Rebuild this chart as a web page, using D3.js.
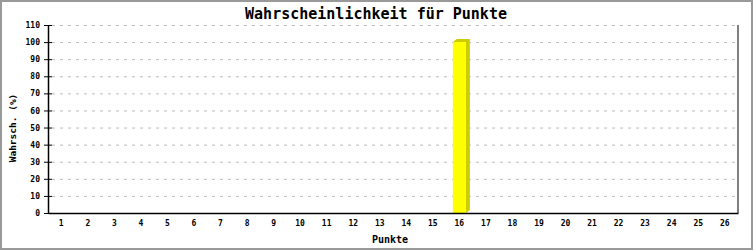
<!DOCTYPE html>
<html>
<head>
<meta charset="utf-8">
<script src="https://cdn.jsdelivr.net/npm/d3@7/dist/d3.min.js"></script>
<style>
body { margin: 0; background: #fff; }
svg { display: block; }
text { font-family: "DejaVu Sans Mono", monospace; fill: #000; }
.grid line { stroke: #bbb; stroke-dasharray: 3,5; }
</style>
</head>
<body>
<svg width="753" height="250"></svg>
<script>
// data
var punkte = d3.range(1, 27);
var wahrsch = [0,0,0,0,0,0,0,0,0,0,0,0,0,0,0,100,0,0,0,0,0,0,0,0,0,0];
var yTicks = [0,10,20,30,40,50,60,70,80,90,100,110];

var svg = d3.select("svg"),
margin = {top: 25, right: 15, bottom: 37, left: 48},
width = +svg.attr("width") - margin.left - margin.right,
height = +svg.attr("height") - margin.top - margin.bottom;

// frame
svg.append("rect")
  .attr("x", 1).attr("y", 1).attr("width", 751).attr("height", 248)
  .attr("fill", "#fff").attr("stroke", "#999").attr("stroke-width", 2);

var x = d3.scaleBand().domain(punkte).range([0, width]),
y = d3.scaleLinear().domain([0, 110]).range([height, 0]);

var g = svg.append("g")
  .attr("transform", "translate(" + margin.left + "," + margin.top + ")");

// grid
g.append("g").attr("class", "grid")
  .selectAll("line")
  .data(yTicks.filter(function(d) { return d > 0; }))
  .enter().append("line")
    .attr("x1", 4).attr("x2", width)
    .attr("y1", function(d) { return y(d) + 0.5; })
    .attr("y2", function(d) { return y(d) + 0.5; });

// bars (pseudo 3d)
var dx = 4, dy = 3, bw = 13;
var bars = g.selectAll(".bar")
  .data(wahrsch.map(function(v, i) { return {p: punkte[i], v: v}; }).filter(function(d) { return d.v > 0; }))
  .enter().append("g").attr("class", "bar");

bars.append("path")
  .attr("fill", "#cccc00")
  .attr("d", function(d) {
    var x0 = x(d.p) + x.bandwidth() / 2 - bw / 2, x1 = x0 + bw, y0 = y(d.v), yb = height;
    return "M" + x0 + "," + y0 + "L" + (x0 + dx) + "," + (y0 - dy) + "L" + (x1 + dx) + "," + (y0 - dy) +
      "L" + (x1 + dx) + "," + (yb - dy) + "L" + x1 + "," + yb + "L" + x1 + "," + y0 + "Z";
  });

bars.append("rect")
  .attr("fill", "#ffff00")
  .attr("x", function(d) { return x(d.p) + x.bandwidth() / 2 - bw / 2; })
  .attr("y", function(d) { return y(d.v); })
  .attr("width", bw)
  .attr("height", function(d) { return height - y(d.v); });

// Y axis
g.append("g")
  .call(d3.axisLeft(y).tickValues(yTicks).tickSizeInner(4).tickSizeOuter(0).tickPadding(4))
  .call(function(a) {
    a.selectAll("text").style("font-size", "8px").style("font-weight", "bold");
    a.selectAll(".tick line").attr("x2", 4).attr("x1", -4).attr("stroke", "#000");
    a.select(".domain").attr("stroke", "#000").attr("stroke-width", 1.5);
  });

// X axis
g.append("g")
  .attr("transform", "translate(0," + height + ")")
  .call(d3.axisBottom(x).tickSize(0).tickPadding(7))
  .call(function(a) {
    a.selectAll("text").style("font-size", "8px").style("font-weight", "bold");
    a.select(".domain").attr("stroke", "#000").attr("stroke-width", 1.5);
  });

// right border of plot
g.append("line")
  .attr("x1", width).attr("x2", width).attr("y1", 0).attr("y2", height)
  .attr("stroke", "#000");

// title & labels
svg.append("text")
  .attr("x", 376).attr("y", 19).attr("text-anchor", "middle")
  .style("font-size", "15px").style("font-weight", "bold")
  .text("Wahrscheinlichkeit für Punkte");

svg.append("text")
  .attr("x", 390).attr("y", 243).attr("text-anchor", "middle")
  .style("font-size", "10px").style("font-weight", "bold")
  .text("Punkte");

svg.append("text")
  .attr("transform", "translate(16,128) rotate(-90)")
  .attr("text-anchor", "middle")
  .style("font-size", "9.5px").style("font-weight", "bold")
  .text("Wahrsch. (%)");
</script>
</body>
</html>
